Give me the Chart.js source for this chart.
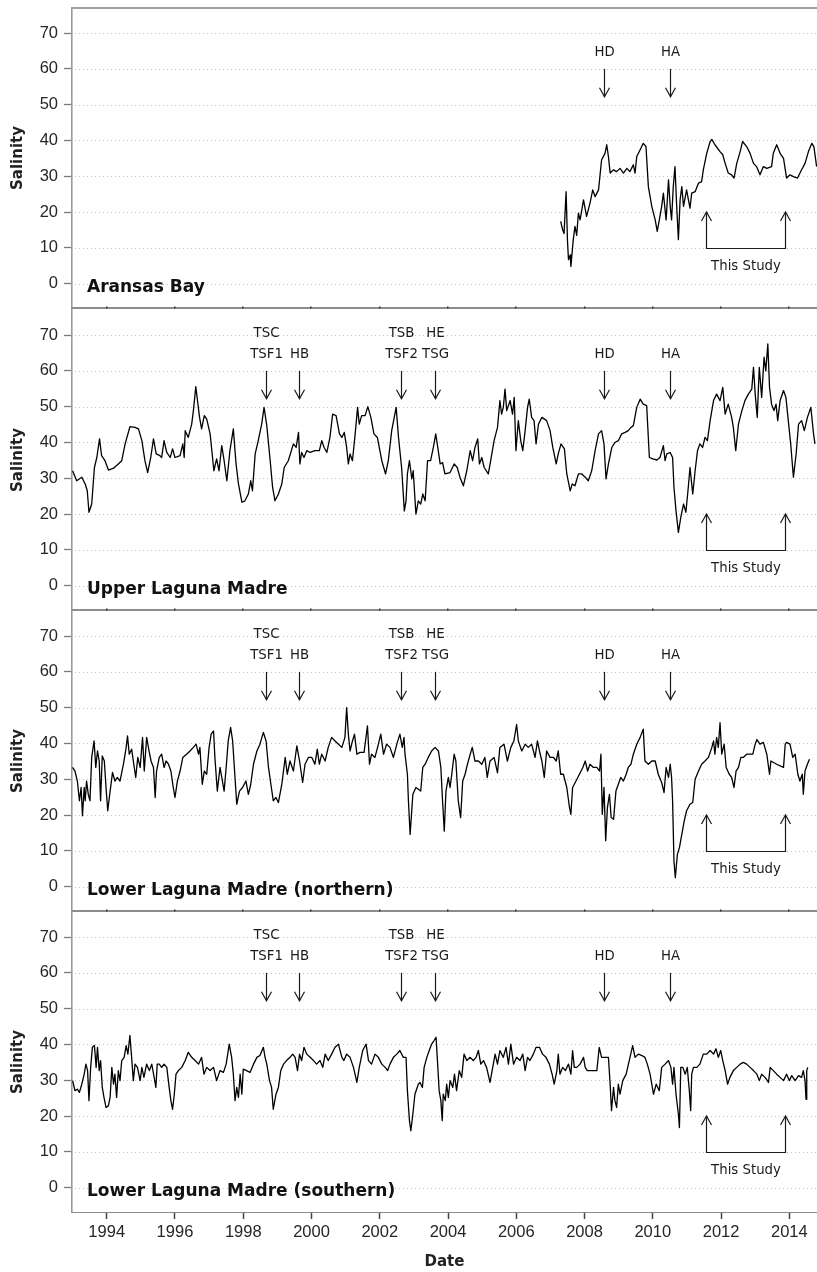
<!DOCTYPE html>
<html>
<head>
<meta charset="utf-8">
<title>Salinity time series</title>
<script src="https://cdn.jsdelivr.net/npm/chart.js@4.4.1/dist/chart.umd.min.js"></script>
<style>
  html, body { margin: 0; padding: 0; background: #ffffff; }
  #wrap { position: relative; width: 817px; height: 1272px; overflow: hidden; background: #ffffff; }
  #wrap canvas { position: absolute; left: 0; }
</style>
</head>
<body>
<div id="wrap"></div>
<script>
// ---- Data: [decimal year, salinity] ----
const aransasBay = [
  [2007.30,17.4],[2007.36,15.0],[2007.40,14.0],[2007.46,25.7],[2007.50,12.0],[2007.53,6.7],[2007.58,8.0],[2007.60,4.8],[2007.67,12.3],[2007.72,16.0],
  [2007.77,13.5],[2007.82,19.7],[2007.87,17.8],[2007.97,23.4],[2008.06,18.8],[2008.16,22.5],[2008.24,26.2],[2008.31,24.3],[2008.41,26.2],[2008.45,29.9],
  [2008.50,34.6],[2008.60,36.4],[2008.65,38.8],[2008.70,35.5],[2008.75,30.9],[2008.85,31.8],[2008.94,31.3],[2009.04,32.2],[2009.14,30.9],[2009.24,32.2],
  [2009.33,31.3],[2009.43,33.2],[2009.48,30.9],[2009.53,35.5],[2009.63,37.4],[2009.72,39.2],[2009.80,38.3],[2009.87,27.1],[2009.97,21.6],[2010.07,17.8],
  [2010.13,14.6],[2010.21,18.8],[2010.26,21.6],[2010.31,25.3],[2010.39,17.8],[2010.46,29.0],[2010.51,21.6],[2010.55,17.8],[2010.60,27.1],[2010.65,32.7],
  [2010.70,21.6],[2010.75,12.3],[2010.80,23.4],[2010.85,27.1],[2010.90,21.6],[2010.99,26.2],[2011.09,21.1],[2011.14,25.3],[2011.24,25.7],[2011.34,28.1],
  [2011.43,28.5],[2011.48,31.8],[2011.58,36.4],[2011.68,39.7],[2011.73,40.3],[2011.82,38.8],[2011.97,36.9],[2012.05,36.0],[2012.12,33.6],[2012.21,30.9],
  [2012.31,30.4],[2012.38,29.5],[2012.46,33.6],[2012.56,36.9],[2012.63,39.7],[2012.75,38.3],[2012.85,36.4],[2012.95,33.6],[2013.04,32.7],[2013.14,30.4],
  [2013.24,32.7],[2013.34,32.2],[2013.48,32.7],[2013.53,36.4],[2013.63,38.8],[2013.73,36.4],[2013.83,35.0],[2013.92,29.5],[2014.02,30.4],[2014.12,29.9],
  [2014.24,29.5],[2014.36,31.8],[2014.46,33.6],[2014.56,36.9],[2014.66,39.2],[2014.72,38.3],[2014.80,32.7]
];

const upperLagunaMadre = [
  [1993.00,32.1],[1993.12,29.3],[1993.27,30.3],[1993.37,28.4],[1993.43,26.5],[1993.48,20.5],[1993.56,22.8],[1993.64,33.0],[1993.71,35.8],[1993.79,41.0],
  [1993.85,36.3],[1993.95,34.9],[1994.05,32.3],[1994.20,32.8],[1994.34,34.0],[1994.44,34.9],[1994.54,39.6],[1994.68,44.4],[1994.83,44.2],[1994.93,43.8],
  [1995.03,40.5],[1995.12,34.9],[1995.20,31.6],[1995.29,35.8],[1995.37,41.0],[1995.45,36.8],[1995.56,36.3],[1995.61,35.8],[1995.68,40.5],[1995.76,37.2],
  [1995.86,35.8],[1995.93,38.2],[1996.00,35.8],[1996.15,36.3],[1996.23,39.6],[1996.27,35.8],[1996.30,43.3],[1996.39,41.4],[1996.49,45.1],[1996.54,48.9],
  [1996.61,55.6],[1996.66,51.7],[1996.72,47.0],[1996.78,43.8],[1996.86,47.5],[1996.93,46.5],[1997.03,42.4],[1997.14,32.1],[1997.22,35.4],[1997.29,32.1],
  [1997.37,39.1],[1997.44,34.9],[1997.52,29.3],[1997.61,37.7],[1997.71,43.8],[1997.79,34.0],[1997.86,28.4],[1997.96,23.3],[1998.05,23.7],[1998.15,25.6],
  [1998.22,29.3],[1998.27,26.5],[1998.35,36.8],[1998.44,40.5],[1998.54,45.1],[1998.61,49.8],[1998.69,44.7],[1998.79,34.9],[1998.86,27.5],[1998.93,23.7],
  [1999.03,25.6],[1999.13,28.4],[1999.20,33.0],[1999.32,34.9],[1999.47,39.6],[1999.55,38.6],[1999.62,42.8],[1999.66,34.0],[1999.71,37.2],[1999.78,35.8],
  [1999.86,37.7],[1999.96,37.2],[2000.10,37.7],[2000.23,37.7],[2000.30,40.5],[2000.37,38.6],[2000.45,37.2],[2000.54,41.4],[2000.62,47.9],[2000.72,47.5],
  [2000.82,42.4],[2000.89,41.4],[2000.96,42.8],[2001.03,38.6],[2001.08,34.0],[2001.13,36.8],[2001.20,34.9],[2001.28,42.4],[2001.35,49.8],[2001.40,45.1],
  [2001.47,47.5],[2001.57,47.5],[2001.65,50.0],[2001.74,47.0],[2001.83,42.4],[2001.93,41.4],[2002.06,34.9],[2002.17,31.2],[2002.25,34.9],[2002.35,43.3],
  [2002.48,49.8],[2002.55,41.4],[2002.64,33.0],[2002.72,20.9],[2002.77,23.7],[2002.81,31.2],[2002.87,34.9],[2002.94,29.8],[2002.98,32.1],[2003.06,20.0],
  [2003.13,23.7],[2003.20,22.8],[2003.26,25.6],[2003.33,23.7],[2003.40,34.9],[2003.49,34.9],[2003.57,38.6],[2003.64,42.4],[2003.70,38.6],[2003.77,34.0],
  [2003.84,34.4],[2003.91,31.2],[2004.06,31.6],[2004.18,34.0],[2004.27,33.0],[2004.35,30.3],[2004.45,27.9],[2004.55,32.1],[2004.65,37.7],[2004.72,34.9],
  [2004.79,38.6],[2004.87,41.0],[2004.92,34.0],[2004.99,35.8],[2005.06,33.0],[2005.18,31.2],[2005.25,34.9],[2005.35,40.5],[2005.45,44.2],[2005.52,51.7],
  [2005.57,47.9],[2005.62,49.8],[2005.67,54.9],[2005.72,48.9],[2005.82,51.7],[2005.89,47.9],[2005.94,52.6],[2005.99,37.7],[2006.06,46.1],[2006.13,40.5],
  [2006.19,37.7],[2006.26,43.3],[2006.33,49.8],[2006.38,52.1],[2006.45,47.0],[2006.52,46.1],[2006.58,39.6],[2006.65,45.1],[2006.75,47.0],[2006.89,46.1],
  [2006.99,43.3],[2007.07,38.6],[2007.17,34.0],[2007.23,36.8],[2007.31,39.6],[2007.41,38.2],[2007.48,31.2],[2007.58,26.5],[2007.64,28.4],[2007.72,27.9],
  [2007.82,31.2],[2007.92,31.2],[2008.02,30.3],[2008.11,29.3],[2008.21,32.1],[2008.31,37.7],[2008.41,42.4],[2008.50,43.3],[2008.57,39.6],[2008.63,29.8],
  [2008.70,34.0],[2008.80,38.6],[2008.89,40.0],[2008.99,40.5],[2009.09,42.4],[2009.19,42.8],[2009.28,43.3],[2009.36,44.2],[2009.43,44.7],[2009.53,49.8],
  [2009.63,52.1],[2009.72,50.7],[2009.82,50.3],[2009.90,35.8],[2010.00,35.4],[2010.12,35.1],[2010.21,35.8],[2010.31,39.1],[2010.36,34.9],[2010.41,36.8],
  [2010.51,37.2],[2010.58,35.8],[2010.62,27.5],[2010.68,20.9],[2010.75,14.9],[2010.82,19.1],[2010.90,22.8],[2010.97,20.5],[2011.04,27.5],[2011.09,33.0],
  [2011.17,25.6],[2011.24,32.1],[2011.31,37.7],[2011.38,39.6],[2011.46,38.6],[2011.53,41.4],[2011.60,40.5],[2011.68,46.1],[2011.78,51.7],[2011.87,53.5],
  [2011.97,51.7],[2012.05,55.4],[2012.12,47.9],[2012.21,50.7],[2012.31,47.0],[2012.36,44.2],[2012.43,37.7],[2012.51,45.1],[2012.61,48.9],[2012.70,51.7],
  [2012.80,53.5],[2012.90,54.9],[2012.95,61.0],[2013.00,53.5],[2013.06,47.0],[2013.12,61.0],[2013.19,52.6],[2013.26,63.8],[2013.31,60.0],[2013.37,67.5],
  [2013.42,55.4],[2013.48,50.7],[2013.55,48.9],[2013.61,50.7],[2013.66,46.1],[2013.73,51.7],[2013.83,54.5],[2013.90,52.6],[2013.97,46.1],[2014.04,39.6],
  [2014.12,30.3],[2014.20,36.8],[2014.27,45.1],[2014.36,46.1],[2014.44,43.3],[2014.53,47.0],[2014.63,49.8],[2014.71,42.4],[2014.75,39.6]
];

const lowerLagunaMadreNorth = [
  [1993.00,33.3],[1993.07,32.3],[1993.14,29.5],[1993.20,24.0],[1993.25,27.7],[1993.29,19.8],[1993.34,27.7],[1993.37,24.0],[1993.41,29.5],[1993.46,25.8],
  [1993.51,24.0],[1993.56,36.1],[1993.63,40.7],[1993.68,33.3],[1993.73,37.9],[1993.78,35.1],[1993.82,24.0],[1993.87,36.5],[1993.93,35.1],[1993.98,27.7],
  [1994.03,21.2],[1994.10,26.7],[1994.17,31.9],[1994.24,29.5],[1994.31,30.5],[1994.39,29.5],[1994.49,34.2],[1994.57,38.9],[1994.61,42.1],[1994.66,37.0],
  [1994.73,38.4],[1994.78,35.1],[1994.85,30.5],[1994.91,36.1],[1994.98,33.3],[1995.05,41.7],[1995.10,32.3],[1995.17,41.7],[1995.24,37.9],[1995.30,35.1],
  [1995.37,33.3],[1995.42,24.9],[1995.46,32.3],[1995.54,36.1],[1995.61,37.0],[1995.68,33.3],[1995.74,35.1],[1995.81,34.2],[1995.88,32.3],[1995.95,27.7],
  [1996.00,24.9],[1996.07,29.5],[1996.15,32.3],[1996.23,36.1],[1996.34,37.0],[1996.44,37.9],[1996.54,38.9],[1996.62,39.8],[1996.69,37.0],[1996.73,38.9],
  [1996.80,28.6],[1996.86,32.3],[1996.93,31.4],[1997.00,38.9],[1997.06,42.6],[1997.13,43.5],[1997.17,36.1],[1997.24,26.7],[1997.32,33.3],[1997.39,29.5],
  [1997.44,26.7],[1997.50,33.3],[1997.56,40.7],[1997.63,44.5],[1997.69,40.7],[1997.74,33.3],[1997.81,23.0],[1997.89,26.7],[1997.98,27.7],[1998.08,29.5],
  [1998.15,25.8],[1998.22,28.6],[1998.30,34.2],[1998.40,37.9],[1998.49,39.8],[1998.59,43.1],[1998.67,40.7],[1998.74,33.3],[1998.81,28.6],[1998.88,24.0],
  [1998.96,24.9],[1999.03,23.5],[1999.13,28.6],[1999.23,36.1],[1999.29,31.4],[1999.37,35.1],[1999.47,32.3],[1999.57,39.3],[1999.65,35.1],[1999.74,29.1],
  [1999.81,34.2],[1999.91,36.1],[2000.01,36.1],[2000.10,34.2],[2000.17,38.4],[2000.23,34.2],[2000.30,37.0],[2000.40,35.1],[2000.49,38.9],[2000.59,41.7],
  [2000.69,40.7],[2000.79,39.8],[2000.89,38.9],[2000.98,41.7],[2001.03,50.0],[2001.08,42.6],[2001.13,37.9],[2001.20,40.7],[2001.26,42.6],[2001.33,37.0],
  [2001.42,37.5],[2001.54,37.5],[2001.64,44.9],[2001.70,34.2],[2001.76,37.0],[2001.86,36.1],[2001.96,39.8],[2002.03,42.6],[2002.11,37.0],[2002.20,39.8],
  [2002.30,38.9],[2002.40,36.1],[2002.50,39.8],[2002.59,42.6],[2002.66,38.9],[2002.71,41.7],[2002.74,37.0],[2002.81,31.4],[2002.84,24.0],[2002.89,14.6],
  [2002.97,25.8],[2003.06,27.7],[2003.20,26.7],[2003.26,33.3],[2003.33,34.2],[2003.42,36.1],[2003.52,37.9],[2003.62,38.9],[2003.72,37.9],[2003.79,33.3],
  [2003.84,24.0],[2003.89,15.5],[2003.94,26.7],[2004.01,30.5],[2004.06,27.7],[2004.11,31.4],[2004.18,37.0],[2004.23,35.1],[2004.30,24.0],[2004.37,19.3],
  [2004.43,29.5],[2004.50,31.4],[2004.57,34.2],[2004.65,37.0],[2004.71,38.9],[2004.79,35.1],[2004.89,35.1],[2004.99,34.2],[2005.08,36.1],[2005.15,30.5],
  [2005.23,35.1],[2005.35,36.1],[2005.45,31.8],[2005.52,38.9],[2005.64,39.8],[2005.74,35.1],[2005.84,38.9],[2005.93,40.7],[2006.01,45.3],[2006.06,40.7],
  [2006.16,37.9],[2006.26,39.8],[2006.35,38.9],[2006.45,39.8],[2006.55,36.1],[2006.62,40.7],[2006.68,37.9],[2006.75,35.1],[2006.82,30.5],[2006.89,37.9],
  [2006.99,36.1],[2007.09,36.1],[2007.17,35.1],[2007.23,37.9],[2007.30,31.4],[2007.38,31.4],[2007.48,27.7],[2007.56,22.1],[2007.60,20.2],[2007.65,27.7],
  [2007.75,29.5],[2007.85,31.4],[2007.95,33.3],[2008.02,35.1],[2008.09,32.3],[2008.16,34.2],[2008.26,33.3],[2008.36,33.3],[2008.44,32.3],[2008.48,37.0],
  [2008.52,20.2],[2008.57,27.7],[2008.62,12.8],[2008.67,22.1],[2008.73,25.8],[2008.78,19.3],[2008.85,18.8],[2008.92,26.7],[2008.99,28.6],[2009.06,30.5],
  [2009.14,29.5],[2009.22,31.4],[2009.28,33.3],[2009.36,34.2],[2009.43,37.0],[2009.53,39.8],[2009.63,41.7],[2009.72,44.0],[2009.77,35.1],[2009.87,34.2],
  [2009.97,35.1],[2010.07,35.1],[2010.16,31.4],[2010.26,29.1],[2010.33,26.3],[2010.39,33.3],[2010.46,30.5],[2010.51,34.2],[2010.55,30.5],[2010.58,24.0],
  [2010.62,7.2],[2010.66,2.5],[2010.72,9.0],[2010.78,10.9],[2010.85,14.6],[2010.92,18.3],[2010.99,21.2],[2011.09,23.0],[2011.17,23.5],[2011.24,30.0],
  [2011.34,32.3],[2011.43,34.2],[2011.53,35.1],[2011.63,36.1],[2011.73,38.9],[2011.78,40.7],[2011.82,37.0],[2011.87,41.7],[2011.92,38.9],[2011.97,45.8],
  [2012.02,37.0],[2012.09,39.8],[2012.15,33.3],[2012.24,31.4],[2012.31,30.5],[2012.38,27.7],[2012.44,32.3],[2012.51,33.3],[2012.58,36.1],[2012.65,36.1],
  [2012.75,37.0],[2012.85,37.0],[2012.93,37.0],[2013.00,39.8],[2013.05,41.1],[2013.14,39.8],[2013.24,40.3],[2013.34,37.0],[2013.42,31.4],[2013.46,35.1],
  [2013.63,34.2],[2013.83,33.3],[2013.88,39.8],[2013.92,40.3],[2014.02,39.8],[2014.10,36.1],[2014.17,37.0],[2014.25,31.4],[2014.31,29.5],[2014.38,31.4],
  [2014.41,25.8],[2014.46,32.3],[2014.53,34.2],[2014.59,35.6]
];

const lowerLagunaMadreSouth = [
  [1993.00,29.9],[1993.07,27.1],[1993.14,27.5],[1993.20,26.6],[1993.27,28.9],[1993.34,31.7],[1993.39,34.5],[1993.44,32.7],[1993.48,24.3],[1993.53,33.6],
  [1993.58,39.2],[1993.64,39.7],[1993.69,33.6],[1993.73,39.2],[1993.78,32.7],[1993.82,35.5],[1993.87,28.0],[1993.92,25.2],[1993.98,22.4],[1994.05,22.9],
  [1994.10,25.2],[1994.15,33.6],[1994.20,28.9],[1994.24,31.7],[1994.29,25.2],[1994.34,32.7],[1994.39,29.9],[1994.44,35.5],[1994.51,36.4],[1994.57,39.7],
  [1994.62,37.3],[1994.68,42.5],[1994.73,36.4],[1994.78,29.9],[1994.83,34.5],[1994.90,33.6],[1994.98,29.9],[1995.03,33.6],[1995.09,30.8],[1995.17,34.5],
  [1995.25,32.7],[1995.32,34.5],[1995.39,30.8],[1995.44,28.0],[1995.48,34.5],[1995.54,34.5],[1995.61,33.6],[1995.68,34.5],[1995.76,33.6],[1995.83,28.0],
  [1995.88,24.3],[1995.93,21.9],[1995.98,26.1],[1996.03,31.7],[1996.10,32.7],[1996.20,33.6],[1996.30,35.5],[1996.39,37.8],[1996.49,36.4],[1996.59,35.5],
  [1996.69,34.5],[1996.78,36.4],[1996.85,31.7],[1996.93,33.6],[1997.03,32.7],[1997.13,33.6],[1997.22,29.9],[1997.32,32.7],[1997.42,32.2],[1997.50,34.5],
  [1997.59,40.1],[1997.66,36.4],[1997.71,31.7],[1997.76,24.3],[1997.81,28.0],[1997.86,25.2],[1997.91,31.7],[1997.96,26.1],[1998.00,33.1],[1998.10,32.7],
  [1998.20,32.2],[1998.30,34.5],[1998.40,36.4],[1998.49,36.9],[1998.59,39.2],[1998.64,36.4],[1998.69,34.5],[1998.77,29.9],[1998.83,28.0],[1998.88,21.9],
  [1998.96,26.1],[1999.03,28.0],[1999.10,32.7],[1999.18,34.5],[1999.27,35.5],[1999.37,36.4],[1999.45,37.3],[1999.52,36.4],[1999.59,32.7],[1999.65,37.3],
  [1999.71,35.5],[1999.78,39.2],[1999.86,37.3],[1999.96,36.4],[2000.06,35.5],[2000.15,34.5],[2000.25,35.5],[2000.33,33.6],[2000.40,37.3],[2000.49,35.5],
  [2000.59,37.3],[2000.69,39.2],[2000.79,40.1],[2000.89,36.4],[2000.95,35.5],[2001.03,37.3],[2001.13,36.4],[2001.23,33.6],[2001.33,29.4],[2001.40,33.6],
  [2001.50,38.3],[2001.60,40.1],[2001.67,35.5],[2001.76,34.5],[2001.86,37.3],[2001.96,36.4],[2002.06,34.5],[2002.16,33.6],[2002.23,32.7],[2002.30,34.5],
  [2002.40,36.4],[2002.50,37.3],[2002.59,38.3],[2002.69,36.4],[2002.77,36.4],[2002.81,27.1],[2002.87,18.7],[2002.91,15.9],[2002.97,20.5],[2003.03,26.1],
  [2003.13,28.9],[2003.18,29.4],[2003.25,28.0],[2003.30,33.6],[2003.38,36.4],[2003.45,38.3],[2003.52,40.1],[2003.59,41.1],[2003.65,42.0],[2003.69,35.5],
  [2003.74,27.1],[2003.79,24.3],[2003.83,18.7],[2003.86,26.1],[2003.92,24.3],[2003.96,28.9],[2004.01,25.2],[2004.06,29.9],[2004.14,28.0],[2004.19,31.7],
  [2004.25,27.1],[2004.33,32.7],[2004.40,30.8],[2004.47,37.3],[2004.55,35.5],[2004.65,36.4],[2004.74,35.5],[2004.82,36.4],[2004.89,38.3],[2004.96,34.5],
  [2005.04,35.5],[2005.13,33.6],[2005.23,29.4],[2005.31,33.6],[2005.38,37.3],[2005.45,34.5],[2005.52,38.3],[2005.62,36.4],[2005.70,39.2],[2005.77,34.5],
  [2005.84,40.1],[2005.92,34.5],[2006.01,36.4],[2006.11,35.5],[2006.19,37.3],[2006.26,32.7],[2006.33,36.4],[2006.40,35.5],[2006.50,37.3],[2006.58,39.2],
  [2006.68,39.2],[2006.77,37.3],[2006.87,36.4],[2006.97,34.5],[2007.05,31.7],[2007.11,28.9],[2007.19,32.7],[2007.23,37.3],[2007.28,31.7],[2007.36,33.6],
  [2007.44,32.7],[2007.53,34.5],[2007.60,31.7],[2007.65,38.3],[2007.70,33.6],[2007.77,33.6],[2007.87,34.5],[2007.97,36.4],[2008.02,33.6],[2008.08,32.7],
  [2008.16,32.7],[2008.26,32.7],[2008.36,32.7],[2008.43,39.2],[2008.50,36.4],[2008.60,36.4],[2008.70,36.4],[2008.75,28.9],[2008.79,21.5],[2008.85,28.0],
  [2008.89,24.3],[2008.94,22.4],[2008.99,28.9],[2009.04,26.1],[2009.12,29.9],[2009.22,31.7],[2009.31,35.5],[2009.41,39.7],[2009.48,36.4],[2009.58,37.3],
  [2009.68,36.9],[2009.77,36.4],[2009.84,34.5],[2009.92,31.7],[2009.97,28.9],[2010.02,26.1],[2010.10,28.9],[2010.19,27.1],[2010.26,33.6],[2010.36,34.5],
  [2010.46,35.5],[2010.53,33.6],[2010.58,28.9],[2010.62,33.6],[2010.68,26.1],[2010.75,20.5],[2010.78,16.8],[2010.82,33.6],[2010.88,33.6],[2010.95,31.7],
  [2011.01,33.6],[2011.07,27.1],[2011.11,21.5],[2011.14,31.7],[2011.19,33.6],[2011.29,33.6],[2011.38,34.5],[2011.48,37.3],[2011.58,37.3],[2011.68,38.3],
  [2011.78,37.3],[2011.85,38.8],[2011.92,36.4],[2011.99,38.3],[2012.05,35.5],[2012.12,32.7],[2012.19,28.9],[2012.26,30.8],[2012.36,32.7],[2012.46,33.6],
  [2012.56,34.5],[2012.65,35.0],[2012.75,34.5],[2012.85,33.6],[2012.95,32.7],[2013.05,31.7],[2013.12,29.9],[2013.19,31.7],[2013.29,30.8],[2013.39,29.4],
  [2013.44,33.6],[2013.53,32.7],[2013.63,31.7],[2013.73,30.8],[2013.83,29.9],[2013.92,31.7],[2014.00,29.9],[2014.07,31.3],[2014.17,29.9],[2014.27,31.3],
  [2014.36,30.8],[2014.41,32.7],[2014.46,29.9],[2014.49,24.7],[2014.51,32.7],[2014.54,33.6]
];

const stationNames = ['Aransas Bay', 'Upper Laguna Madre', 'Lower Laguna Madre (northern)', 'Lower Laguna Madre (southern)'];
const stationSeries = [aransasBay, upperLagunaMadre, lowerLagunaMadreNorth, lowerLagunaMadreSouth];

// Storm events (decimal year) with their two-line labels
const eventYears = [1998.66, 1999.63, 2002.61, 2003.62, 2008.57, 2010.51];
const eventUpperLabels = ['TSC', '', 'TSB', 'HE', '', ''];
const eventLowerLabels = ['TSF1', 'HB', 'TSF2', 'TSG', 'HD', 'HA'];

// Sampling period of this study
const studyPeriod = [2011.55, 2013.86];

// Axis ticks
const yearTicks = [1994, 1996, 1998, 2000, 2002, 2004, 2006, 2008, 2010, 2012, 2014];
const salinityTicks = [0, 10, 20, 30, 40, 50, 60, 70];

// ---- Layout ----
const X_MIN = 1992.983, X_MAX = 2014.811;
const Y_MIN = -6.8, Y_MAX = 77.0;
const PANEL_TOPS = [8, 310, 611, 912];
const PLOT_H = 300;
const TICK_FONT = { family: '"Liberation Sans", Arial, sans-serif', size: 16.5 };
const NOTE_FONT = '13.3px "DejaVu Sans", Verdana, sans-serif';
const NAME_FONT = 'bold 17px "DejaVu Sans", Verdana, sans-serif';
const INK = '#1a1a1a';

function arrowHead(ctx, x, y, dir) {
  // dir = 1: pointing down, -1: pointing up
  ctx.beginPath();
  ctx.moveTo(x - 5, y - 9 * dir);
  ctx.lineTo(x, y);
  ctx.lineTo(x + 5, y - 9 * dir);
  ctx.stroke();
}

const panelDecor = {
  id: 'panelDecor',
  beforeDatasetsDraw(chart) {
    const { ctx, chartArea: a, scales: { y } } = chart;
    ctx.save();
    ctx.strokeStyle = '#c2c2c2';
    ctx.lineWidth = 1;
    ctx.setLineDash([1, 3]);
    salinityTicks.forEach(v => {
      const py = Math.round(y.getPixelForValue(v)) + 0.5;
      ctx.beginPath();
      ctx.moveTo(a.left + 3, py);
      ctx.lineTo(a.right, py);
      ctx.stroke();
    });
    ctx.restore();
  },
  afterDatasetsDraw(chart, args, opts) {
    const { ctx, chartArea: a, scales: { x, y } } = chart;
    const series = stationSeries[opts.index];
    const firstYear = series[0][0];
    ctx.save();
    ctx.strokeStyle = INK;
    ctx.fillStyle = INK;
    ctx.lineWidth = 1.2;
    ctx.font = NOTE_FONT;
    ctx.textAlign = 'center';
    ctx.textBaseline = 'middle';

    // Storm arrows and labels
    eventYears.forEach((yr, k) => {
      if (yr < firstYear) return;
      const px = Math.round(x.getPixelForValue(yr)) + 0.5;
      const yTop = y.getPixelForValue(60);
      const yTip = y.getPixelForValue(52.2);
      ctx.beginPath();
      ctx.moveTo(px, yTop);
      ctx.lineTo(px, yTip);
      ctx.stroke();
      arrowHead(ctx, px, yTip, 1);
      if (eventUpperLabels[k]) ctx.fillText(eventUpperLabels[k], px, y.getPixelForValue(70.3));
      ctx.fillText(eventLowerLabels[k], px, y.getPixelForValue(64.5));
    });

    // "This Study" bracket
    const x1 = Math.round(x.getPixelForValue(studyPeriod[0])) + 0.5;
    const x2 = Math.round(x.getPixelForValue(studyPeriod[1])) + 0.5;
    const yb = Math.round(y.getPixelForValue(10)) + 0.5;
    const yt = y.getPixelForValue(20);
    ctx.beginPath();
    ctx.moveTo(x1, yt);
    ctx.lineTo(x1, yb);
    ctx.lineTo(x2, yb);
    ctx.lineTo(x2, yt);
    ctx.stroke();
    arrowHead(ctx, x1, yt, -1);
    arrowHead(ctx, x2, yt, -1);
    ctx.fillText('This Study', (x1 + x2) / 2, y.getPixelForValue(4.8));

    // Station name
    ctx.font = NAME_FONT;
    ctx.fillStyle = '#111';
    ctx.textAlign = 'left';
    ctx.fillText(stationNames[opts.index], a.left + 15, y.getPixelForValue(0) + 3.5);
    ctx.restore();
  },
  afterDraw(chart, args, opts) {
    const { ctx, chartArea: a, scales: { x } } = chart;
    ctx.save();
    if (opts.index === 0) {
      ctx.strokeStyle = '#a0a0a0';
      ctx.lineWidth = 2;
      ctx.beginPath();
      ctx.moveTo(a.left - 1, a.top);
      ctx.lineTo(a.right, a.top);
      ctx.stroke();
    }
    if (!opts.last) {
      ctx.strokeStyle = '#8c8c8c';
      ctx.lineWidth = 2.2;
      ctx.beginPath();
      ctx.moveTo(a.left - 1, a.bottom);
      ctx.lineTo(a.right, a.bottom);
      ctx.stroke();
      ctx.fillStyle = '#333';
      yearTicks.forEach(v => {
        const px = Math.round(x.getPixelForValue(v));
        ctx.fillRect(px - 1, a.bottom - 1.5, 1.5, 2);
      });
    }
    ctx.restore();
  }
};

Chart.register(panelDecor);

const wrap = document.getElementById('wrap');

stationSeries.forEach((series, i) => {
  const last = i === stationSeries.length - 1;
  const padTop = 6;
  const padBottom = last ? 0 : 6;
  const xAxisH = last ? 60 : 0;
  const h = padTop + PLOT_H + padBottom + xAxisH;
  const canvas = document.createElement('canvas');
  canvas.width = 817;
  canvas.height = h;
  canvas.style.width = '817px';
  canvas.style.height = h + 'px';
  canvas.style.top = (PANEL_TOPS[i] - padTop) + 'px';
  wrap.appendChild(canvas);

  new Chart(canvas, {
    type: 'line',
    data: {
      datasets: [{
        data: series.map(([yr, s]) => ({ x: yr, y: s })),
        borderColor: '#000',
        borderWidth: 1.3,
        borderJoinStyle: 'round',
        pointRadius: 0,
        tension: 0,
        fill: false
      }]
    },
    options: {
      responsive: false,
      maintainAspectRatio: false,
      animation: false,
      devicePixelRatio: 1,
      events: [],
      layout: { padding: { top: padTop, bottom: padBottom, left: 0, right: 0 } },
      plugins: {
        legend: { display: false },
        tooltip: { enabled: false },
        panelDecor: { index: i, last: last }
      },
      scales: {
        x: {
          type: 'linear',
          min: X_MIN,
          max: X_MAX,
          display: last,
          afterBuildTicks: s => { s.ticks = yearTicks.map(v => ({ value: v })); },
          afterFit: s => { s.height = xAxisH; s.paddingLeft = 0; s.paddingRight = 0; },
          grid: { drawOnChartArea: false, drawTicks: true, tickLength: 7, tickColor: '#444', tickWidth: 1.5 },
          border: { display: true, color: '#8c8c8c', width: 1 },
          ticks: {
            autoSkip: false, maxRotation: 0, minRotation: 0, padding: 4,
            color: '#262626', font: TICK_FONT,
            callback: v => String(v)
          },
          title: {
            display: true, text: 'Date', color: '#222',
            font: { family: '"DejaVu Sans", Verdana, sans-serif', size: 15, weight: 'bold' },
            padding: { top: 0, bottom: 1 }
          }
        },
        y: {
          type: 'linear',
          min: Y_MIN,
          max: Y_MAX,
          afterBuildTicks: s => { s.ticks = salinityTicks.map(v => ({ value: v })); },
          afterFit: s => { s.width = 72; s.paddingTop = 0; s.paddingBottom = 0; },
          grid: { drawOnChartArea: false, drawTicks: true, tickLength: 8, tickColor: '#7a7a7a', tickWidth: 1.3 },
          border: { display: true, color: '#9a9a9a', width: 1.6 },
          ticks: { padding: 6, color: '#262626', font: TICK_FONT, callback: v => String(v) },
          title: {
            display: true, text: 'Salinity', color: '#222',
            font: { family: '"DejaVu Sans", Verdana, sans-serif', size: 15, weight: 'bold' },
            padding: { top: 9, bottom: 0 }
          }
        }
      }
    }
  });
});
</script>
</body>
</html>
